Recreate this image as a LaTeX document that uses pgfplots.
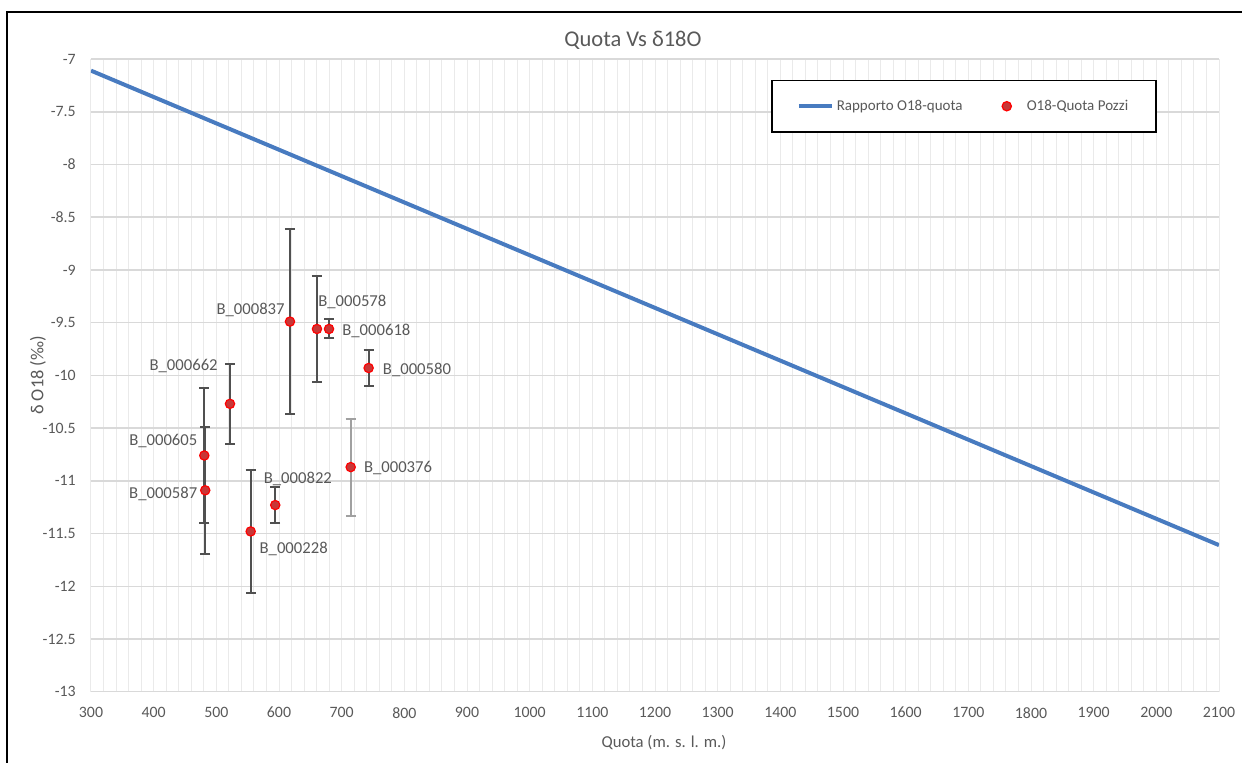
\documentclass[border=0pt]{standalone}
\usepackage{fontspec}
\setmainfont{Carlito}
\usepackage{pgfplots}
\usepackage{pgfplotstable}
\pgfplotsset{compat=1.18}
\definecolor{txt}{RGB}{89,89,89}
\definecolor{gridmaj}{RGB}{217,217,217}
\definecolor{gridmin}{RGB}{234,234,234}
\definecolor{lineblue}{RGB}{72,123,192}
\definecolor{ptfill}{RGB}{200,55,55}
\definecolor{errdark}{RGB}{80,80,80}
\definecolor{errlight}{RGB}{160,160,160}

\pgfplotstableread{
x y err
617.5 -9.49 0.88
660.6 -9.56 0.50
679.8 -9.56 0.09
743.0 -9.93 0.17
521.8 -10.27 0.38
480.8 -10.76 0.64
482.3 -11.09 0.60
554.8 -11.48 0.58
594.0 -11.23 0.17
}\wells

\pgfplotstableread{
x y err
714.4 -10.87 0.46
}\wellsb

\pgfplotstableread{
x y
300 -7.11
2100 -11.61
}\trend

\tikzset{wl/.style={inner sep=0pt, font=\fontsize{10}{12}\selectfont, text=txt}}
\pgfplotsset{
  lineleg/.style={legend image code/.code={\draw[##1] (0pt,0pt) -- (20pt,0pt);}},
  markleg/.style={legend image code/.code={\path[draw=none] (-6pt,-1pt) rectangle (10.5pt,1pt); \path[##1, draw=none] plot[only marks] coordinates {(0pt,0pt)};}},
}

\begin{document}
\begin{tikzpicture}
\useasboundingbox (0pt,0pt) rectangle (745.2pt,457.8pt);
\draw[black, line width=0.8pt] (4.2pt,-5pt) -- (4.2pt,450.6pt) -- (760pt,450.6pt);
\begin{axis}[
  at={(54.6pt,42.78pt)}, anchor=south west,
  scale only axis, width=676.8pt, height=379.6pt,
  xmin=300, xmax=2100, ymin=-13, ymax=-7,
  xtick={300,400,...,2100},
  ytick={-13,-12.5,...,-7},
  minor x tick num=4,
  major tick length=0pt, minor tick length=0pt,
  axis line style={draw=none},
  axis x line*=bottom, axis y line*=left,
  grid=both,
  major grid style={gridmaj, line width=0.9pt},
  major x grid style={gridmin, line width=0.6pt},
  minor grid style={gridmin, line width=0.6pt},
  /pgf/number format/assume math mode=true,
  /pgf/number format/.cd, fixed, use period, 1000 sep={},
  /pgfplots/.cd,
  tick label style={font=\fontsize{9.5}{11}\selectfont, text=txt, inner sep=0pt},
  xticklabel style={anchor=center, yshift=-12.6pt},
  yticklabel style={anchor=east, xshift=-9pt},
  title={Quota Vs δ18O},
  every axis title/.style={at={(axis description cs:0.4805,1.03)}, anchor=center, font=\fontsize{13.5}{15}\selectfont, text=txt},
  xlabel={Quota (m. s. l. m.)},
  every axis x label/.style={at={(axis description cs:0.508,-0.081)}, anchor=center, font=\fontsize{10}{12}\selectfont, text=txt},
  ylabel={δ O18 (‰)},
  every axis y label/.style={at={(axis description cs:-0.047,0.5)}, anchor=center, rotate=90, font=\fontsize{11}{13}\selectfont, text=txt},
  legend columns=2,
  legend style={at={(axis description cs:0.603,0.967)}, anchor=north west,
    draw=black, line width=0.9pt, fill=white,
    inner xsep=15pt, inner ysep=10pt,
    font=\fontsize{9}{10}\selectfont, text=txt,
    nodes={inner sep=1.5pt},
    /tikz/every even column/.append style={column sep=19pt}},
]
\addplot[lineblue, line width=2.4pt, lineleg] table[x=x,y=y] {\trend};
\addlegendentry{Rapporto O18-quota}

\addplot[only marks, mark=*, mark size=2.8pt, mark options={fill=ptfill, draw=red, line width=0.7pt}, markleg,
  error bars/.cd, y dir=both, y explicit,
  error bar style={errdark, line width=1.2pt},
  error mark options={errdark, rotate=90, mark size=3pt, line width=1.2pt},
  ] table[x=x,y=y,y error=err] {\wells};
\addlegendentry{O18-Quota Pozzi}

\addplot[only marks, mark=*, mark size=2.8pt, mark options={fill=ptfill, draw=red, line width=0.7pt}, forget plot,
  error bars/.cd, y dir=both, y explicit,
  error bar style={errlight, line width=1.2pt},
  error mark options={errlight, rotate=90, mark size=3pt, line width=1.2pt},
  ] table[x=x,y=y,y error=err] {\wellsb};

\node[wl, anchor=east, xshift=-3pt, yshift=7.2pt] at (axis cs:617.5,-9.49) {B\_000837};
\node[wl, anchor=west, xshift=0.6pt, yshift=16.2pt] at (axis cs:660.6,-9.56) {B\_000578};
\node[wl, anchor=west, xshift=7.8pt, yshift=-1pt] at (axis cs:679.8,-9.56) {B\_000618};
\node[wl, anchor=west, xshift=8.4pt, yshift=-1.3pt] at (axis cs:743.0,-9.93) {B\_000580};
\node[wl, anchor=east, xshift=-7.2pt, yshift=23pt] at (axis cs:521.8,-10.27) {B\_000662};
\node[wl, anchor=east, xshift=-4pt, yshift=8.6pt] at (axis cs:480.8,-10.76) {B\_000605};
\node[wl, anchor=east, xshift=-4.6pt, yshift=-2pt] at (axis cs:482.3,-11.09) {B\_000587};
\node[wl, anchor=west, xshift=5.2pt, yshift=-10.4pt] at (axis cs:554.8,-11.48) {B\_000228};
\node[wl, anchor=center, xshift=13.6pt, yshift=15.8pt] at (axis cs:594.0,-11.23) {B\_000822};
\node[wl, anchor=west, xshift=7.8pt, yshift=-0.8pt] at (axis cs:714.4,-10.87) {B\_000376};
\end{axis}
\end{tikzpicture}
\end{document}
